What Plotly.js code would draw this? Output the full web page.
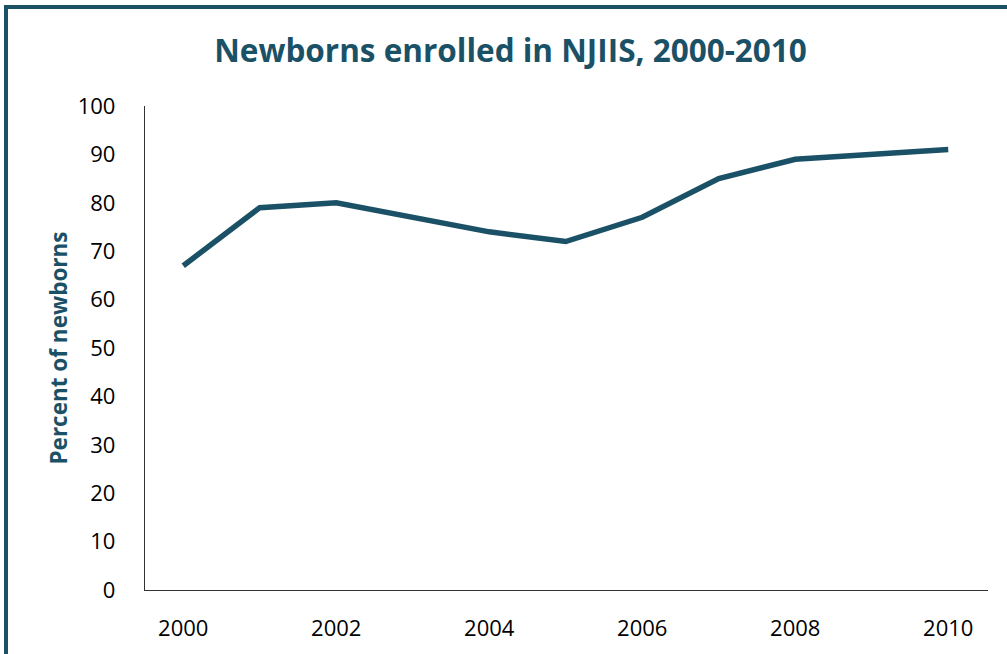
<!DOCTYPE html>
<html>
<head>
<meta charset="utf-8">
<script src="https://cdn.plot.ly/plotly-3.0.1.min.js"></script>
<style>
  html, body { margin: 0; padding: 0; background: #fff; }
  #wrap { position: relative; width: 1007px; height: 654px; overflow: hidden; }
  #chart { position: absolute; left: 0; top: 0; width: 1007px; height: 654px; }
  #frame { position: absolute; left: 4px; top: 5px; width: 1100px; height: 800px;
           border-left: 4px solid #1b5166; border-top: 4px solid #1b5166; pointer-events: none; }
</style>
</head>
<body>
<div id="wrap">
  <div id="chart"></div>
  <div id="frame"></div>
</div>
<script>
const years = [2000, 2001, 2002, 2004, 2005, 2006, 2007, 2008, 2010];
const percent = [67, 79, 80, 74, 72, 77, 85, 89, 91];
const xTicks = [2000, 2002, 2004, 2006, 2008, 2010];
const yTicks = [0, 10, 20, 30, 40, 50, 60, 70, 80, 90, 100];
const chartTitle = "Newborns enrolled in NJIIS, 2000-2010";
const yTitle = "Percent of newborns";

const teal = "#1b5166";
const fontFam = "'Open Sans', 'Liberation Sans', sans-serif";

Plotly.newPlot("chart", [{
  x: years, y: percent, type: "scatter", mode: "lines",
  line: { color: teal, width: 5.5 },
  hoverinfo: "skip"
}], {
  width: 1007, height: 654,
  margin: { l: 145, r: 19, t: 106, b: 64 },
  paper_bgcolor: "#fff", plot_bgcolor: "#fff",
  showlegend: false,
  title: { text: chartTitle, x: 0.507, xanchor: "center", y: 0.922, yanchor: "middle",
           font: { family: fontFam, size: 31.5, color: teal, weight: "bold" } },
  xaxis: {
    range: [1999.5, 2010.52], tickvals: xTicks, ticktext: xTicks.map(String),
    showgrid: false, zeroline: false, showline: true, linecolor: "#333", linewidth: 1.2,
    ticks: "", ticklabelstandoff: 18,
    tickfont: { family: fontFam, size: 22, color: "#000" }
  },
  yaxis: {
    range: [0, 100], tickvals: yTicks, ticktext: yTicks.map(String),
    showgrid: false, zeroline: false, showline: true, linecolor: "#333", linewidth: 1.2,
    ticks: "", ticklabelstandoff: 24,
    tickfont: { family: fontFam, size: 22, color: "#000" },
    title: { text: yTitle, standoff: 3, font: { family: fontFam, size: 22.5, color: teal, weight: "bold" } }
  }
}, { displayModeBar: false, staticPlot: true });
</script>
</body>
</html>
